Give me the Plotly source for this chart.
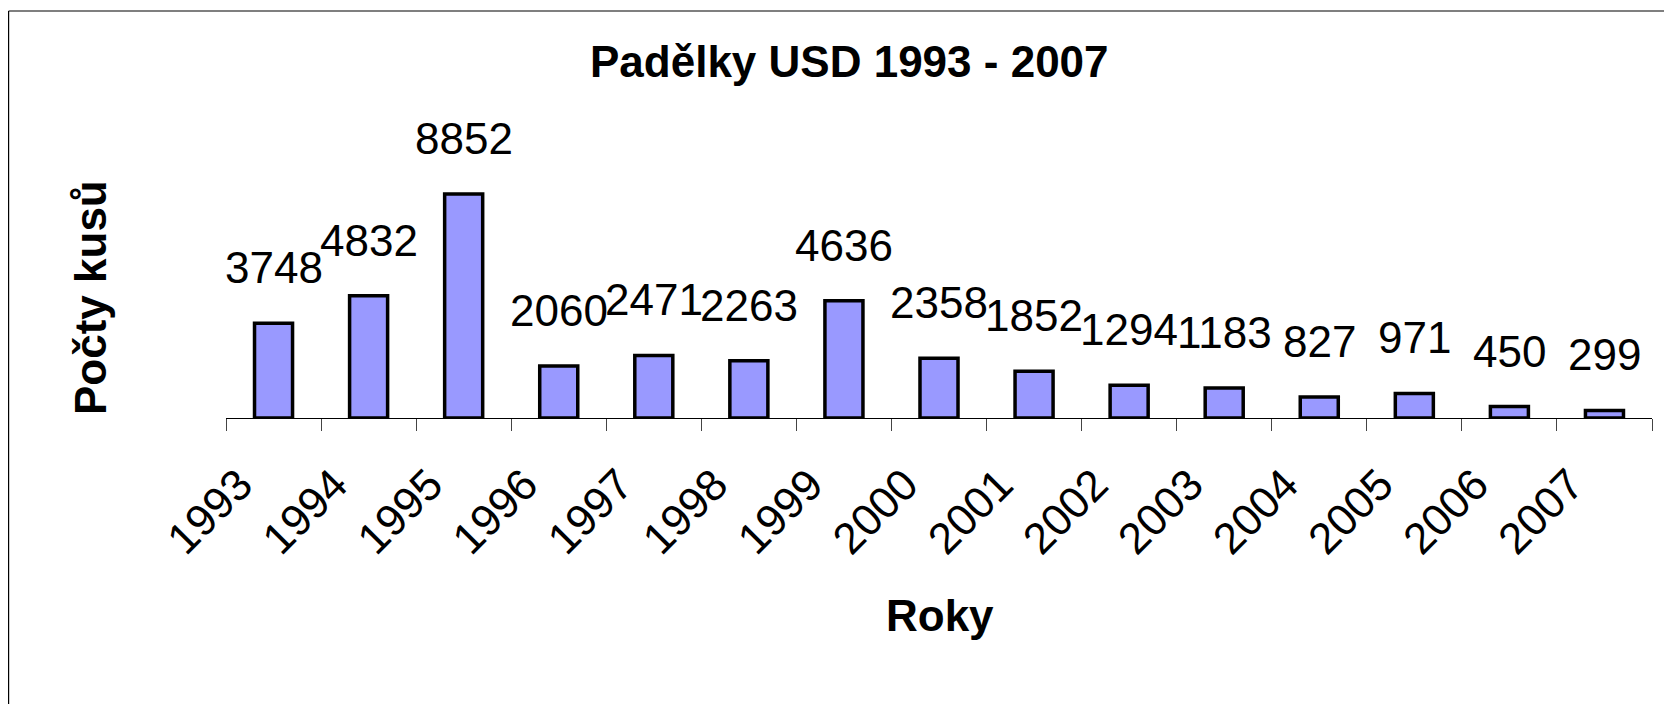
import plotly.graph_objects as go

years = ["1993", "1994", "1995", "1996", "1997", "1998", "1999", "2000",
         "2001", "2002", "2003", "2004", "2005", "2006", "2007"]
counts = [3748, 4832, 8852, 2060, 2471, 2263, 4636, 2358,
          1852, 1294, 1183, 827, 971, 450, 299]

title_text = "Padělky USD 1993 - 2007"
x_title = "Roky"
y_title = "Počty kusů"

W, H = 1672, 704
OFF = 8  # browser body margin
L, R, T, B = 226 - OFF, 20 + OFF, 165 - OFF, 286 + OFF
pw, ph = W - L - R, H - T - B

def px_x(p):
    return (p - OFF - L) / pw

def px_y(p):
    return (H - B - (p - OFF)) / ph

fig = go.Figure()
fig.add_trace(go.Bar(
    x=years, y=counts,
    marker=dict(color="#9999FF", line=dict(color="black", width=3.5)),
    width=0.4,
))

font = "Arial, Liberation Sans, sans-serif"
annotations = []
for i, v in enumerate(counts):
    annotations.append(dict(
        x=i, y=v, xref="x", yref="y", text=str(v), showarrow=False,
        yanchor="bottom", xanchor="center", yshift=29,
        font=dict(family=font, size=44, color="black"),
    ))

annotations.append(dict(
    x=px_x(90), y=px_y(298), xref="paper", yref="paper", text=f"<b>{y_title}</b>",
    textangle=-90, showarrow=False, xanchor="center", yanchor="middle",
    font=dict(family=font, size=44, color="black"),
))
annotations.append(dict(
    x=px_x(940), y=px_y(615), xref="paper", yref="paper", text=f"<b>{x_title}</b>",
    showarrow=False, xanchor="center", yanchor="middle",
    font=dict(family=font, size=44, color="black"),
))
annotations.append(dict(
    x=px_x(849), y=px_y(62), xref="paper", yref="paper", text=f"<b>{title_text}</b>",
    showarrow=False, xanchor="center", yanchor="middle",
    font=dict(family=font, size=44, color="black"),
))

shapes = [
    dict(type="line", xref="paper", yref="paper", x0=px_x(8.6), x1=px_x(8.6),
         y0=px_y(11), y1=px_y(760), line=dict(color="black", width=1.2)),
    dict(type="line", xref="paper", yref="paper", x0=px_x(8.6), x1=px_x(1760),
         y0=px_y(11), y1=px_y(11), line=dict(color="black", width=1.2)),
]

fig.update_layout(
    width=W, height=H,
    margin=dict(l=L, r=R, t=T, b=B, autoexpand=False),
    paper_bgcolor="white", plot_bgcolor="white",
    showlegend=False,
    annotations=annotations,
    shapes=shapes,
    xaxis=dict(
        type="category", showline=True, linecolor="black", linewidth=1.2,
        ticks="outside", tickson="boundaries", ticklen=12, tickcolor="#444",
        tickwidth=1.2, tickangle=-45, showgrid=False,
        ticklabelshift=-34, ticklabelstandoff=22,
        tickfont=dict(family=font, size=44, color="black"),
        range=[-0.5, 14.5],
    ),
    yaxis=dict(range=[0, 10000], visible=False, showgrid=False, zeroline=False),
)

fig.write_html("out.html")
